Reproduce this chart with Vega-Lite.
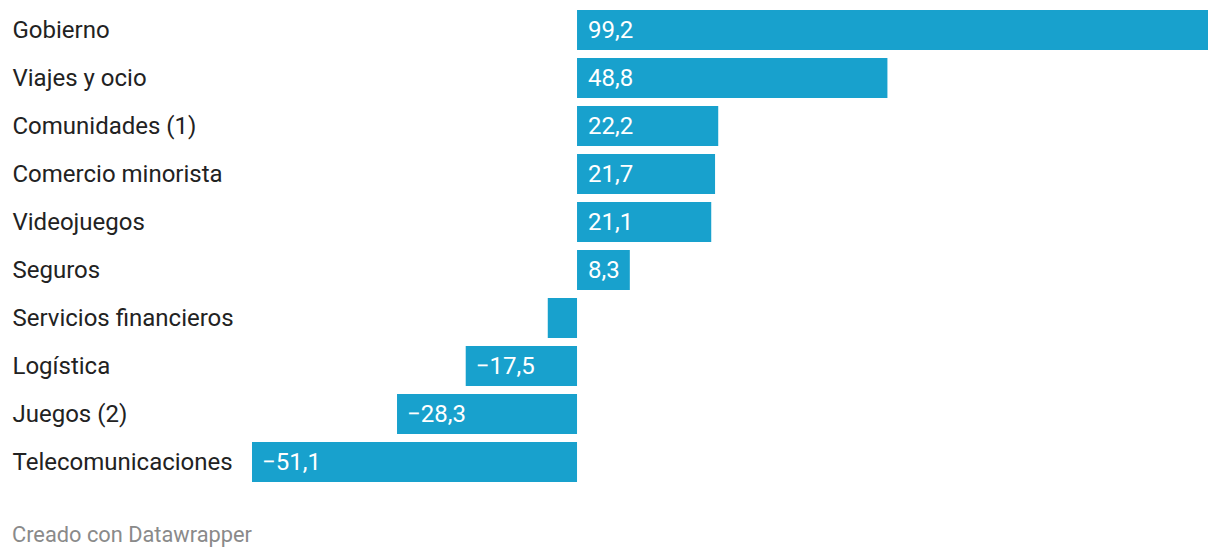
{
  "$schema": "https://vega.github.io/schema/vega-lite/v6.json",
  "autosize": {"type": "none"},
  "width": 956,
  "height": 480,
  "padding": {"left": 252, "top": 6, "right": 12, "bottom": 72},
  "background": "white",
  "data": {"values": [
    {"sector": "Gobierno", "value": 99.2},
    {"sector": "Viajes y ocio", "value": 48.8},
    {"sector": "Comunidades (1)", "value": 22.2},
    {"sector": "Comercio minorista", "value": 21.7},
    {"sector": "Videojuegos", "value": 21.1},
    {"sector": "Seguros", "value": 8.3},
    {"sector": "Servicios financieros", "value": -4.6},
    {"sector": "Logística", "value": -17.5},
    {"sector": "Juegos (2)", "value": -28.3},
    {"sector": "Telecomunicaciones", "value": -51.1}
  ]},
  "title": {
    "text": "Creado con Datawrapper",
    "orient": "bottom",
    "anchor": "start",
    "frame": "group",
    "dx": -240,
    "offset": 39,
    "font": "Roboto",
    "fontSize": 21.8,
    "fontWeight": "normal",
    "color": "#8a8a8a"
  },
  "encoding": {
    "y": {
      "field": "sector",
      "type": "nominal",
      "sort": null,
      "scale": {"paddingInner": 0.1667, "paddingOuter": 0.0833},
      "axis": {
        "title": null,
        "domain": false,
        "ticks": false,
        "labelAlign": "left",
        "labelPadding": 240,
        "labelOffset": 1,
        "labelFont": "Roboto",
        "labelFontSize": 24,
        "labelColor": "#222222",
        "labelLimit": 0
      }
    }
  },
  "layer": [
    {
      "mark": {"type": "bar", "color": "#18a1cd"},
      "encoding": {
        "x": {
          "field": "value",
          "type": "quantitative",
          "scale": {"domain": [-51.1, 99.2], "nice": false},
          "axis": null
        },
        "x2": {"datum": 0}
      }
    },
    {
      "mark": {"type": "rule", "color": "white", "opacity": 0.45, "strokeWidth": 1.5},
      "encoding": {"x": {"datum": 0}}
    },
    {
      "transform": [{"filter": "datum.value > 0"}],
      "mark": {"type": "text", "align": "left", "baseline": "middle", "dx": 11, "dy": 1, "color": "white", "font": "Roboto", "fontSize": 24},
      "encoding": {
        "x": {"datum": 0},
        "text": {"field": "value", "type": "quantitative", "format": ".1f"}
      }
    },
    {
      "transform": [{"filter": "datum.value < -10"}],
      "mark": {"type": "text", "align": "left", "baseline": "middle", "dx": 10, "dy": 1, "color": "white", "font": "Roboto", "fontSize": 24},
      "encoding": {
        "x": {"field": "value", "type": "quantitative"},
        "text": {"field": "value", "type": "quantitative", "format": ".1f"}
      }
    }
  ],
  "config": {
    "view": {"stroke": null},
    "locale": {"number": {"decimal": ",", "thousands": ".", "grouping": [3], "currency": ["", " €"], "minus": "−"}}
  }
}
